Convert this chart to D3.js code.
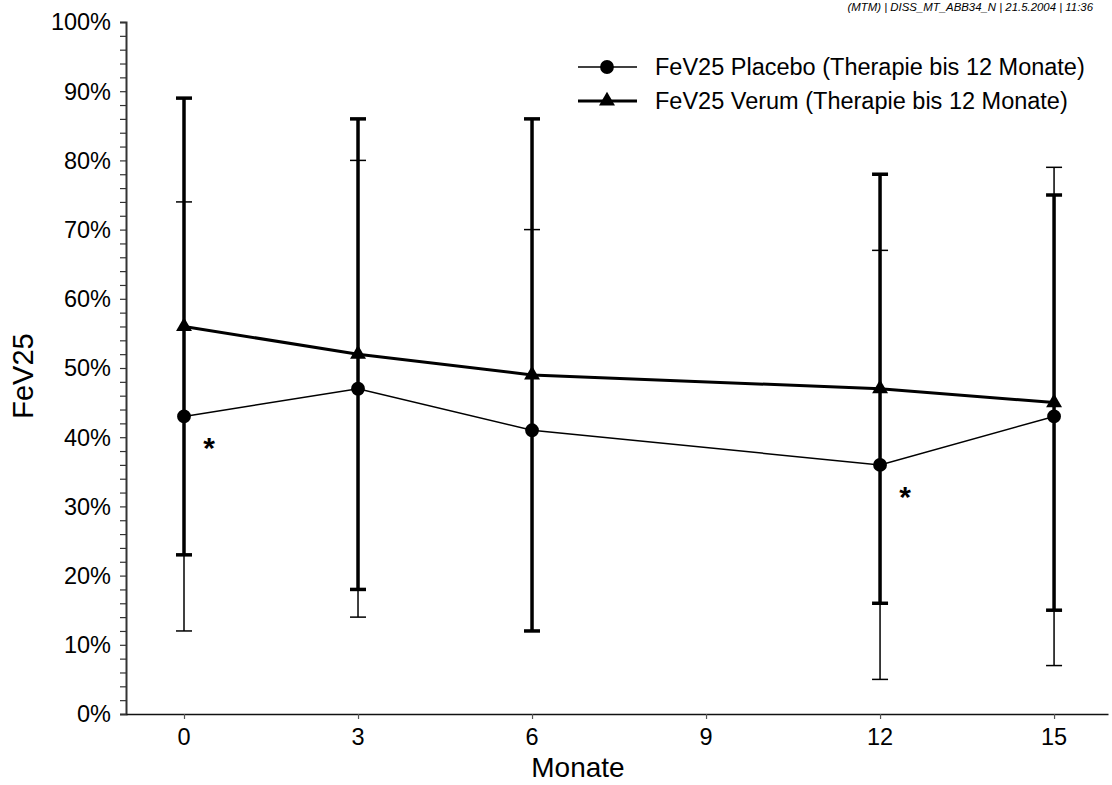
<!DOCTYPE html>
<html>
<head>
<meta charset="utf-8">
<script src="https://cdn.jsdelivr.net/npm/d3@7"></script>
<style>
  body { margin: 0; background: #fff; }
  svg { display: block; font-family: "Liberation Sans", Arial, sans-serif; }
</style>
</head>
<body>
<div id="chart"></div>
<script>
// Data
const months = [0, 3, 6, 12, 15];
const placeboMean = [43, 47, 41, 36, 43];
const placeboUpper = [74, 80, 70, 67, 79];
const placeboLower = [12, 14, 12, 5, 7];
const verumMean = [56, 52, 49, 47, 45];
const verumUpper = [89, 86, 86, 78, 75];
const verumLower = [23, 18, 12, 16, 15];
const xTicks = [0, 3, 6, 9, 12, 15];
const yTicks = [0, 10, 20, 30, 40, 50, 60, 70, 80, 90, 100];
const starMonths = [0, 12];
const seriesNames = ["FeV25 Placebo (Therapie bis 12 Monate)", "FeV25 Verum (Therapie bis 12 Monate)"];

const W = 1112, H = 785;
const plot = { left: 126, right: 1108, top: 22, bottom: 714 };

const svg = d3.select("#chart").append("svg")
  .attr("width", W)
  .attr("height", H);

const x = d3.scaleLinear().domain([-1, 15.93]).range([plot.left, plot.right]);
const y = d3.scaleLinear().domain([0, 100]).range([plot.bottom, plot.top]);

// Y axis with minor ticks
const yAxis = svg.append("g")
  .attr("transform", `translate(${plot.left},0)`);
yAxis.call(d3.axisLeft(y).tickValues(d3.range(0, 101, 2)).tickSize(6).tickFormat(""))
yAxis.select(".domain").attr("stroke", "#333").attr("stroke-width", 2);
yAxis.selectAll(".tick line").attr("stroke", "#333").attr("stroke-width", 1.2);

svg.append("g").selectAll("text")
  .data(yTicks)
  .join("text")
  .attr("x", 111)
  .attr("y", d => y(d))
  .attr("dy", "0.36em")
  .attr("text-anchor", "end")
  .style("font-size", "23.5px")
  .text(d => d + "%");

// X axis
const xAxis = svg.append("g")
  .attr("transform", `translate(0,${plot.bottom})`);
xAxis.call(d3.axisBottom(x).tickValues(xTicks).tickSize(5).tickSizeOuter(0).tickFormat(""));
xAxis.select(".domain").attr("stroke", "#111").attr("stroke-width", 1.5);
xAxis.selectAll(".tick line").attr("stroke", "#555").attr("stroke-width", 1.2);

svg.append("g").selectAll("text")
  .data(xTicks)
  .join("text")
  .attr("x", d => x(d))
  .attr("y", 745)
  .attr("text-anchor", "middle")
  .style("font-size", "23.5px")
  .text(d => d);

// Axis titles
svg.append("text")
  .attr("x", 578)
  .attr("y", 777)
  .attr("text-anchor", "middle")
  .style("font-size", "28px")
  .text("Monate");

svg.append("text")
  .attr("transform", `translate(33,376) rotate(-90)`)
  .attr("text-anchor", "middle")
  .style("font-size", "29px")
  .text("FeV25");

// Top-right stamp
svg.append("text")
  .attr("x", 1093)
  .attr("y", 11)
  .attr("text-anchor", "end")
  .style("font-size", "11.4px")
  .style("font-style", "italic")
  .text("(MTM) | DISS_MT_ABB34_N | 21.5.2004 | 11:36");

const capW = 8;

// Function to draw one series with error bars
const drawSeries = (mean, upper, lower, lineW, barW, symbolType, symbolSize) => {
  const g = svg.append("g");

  // error bars
  months.forEach((m, i) => {
    g.append("line")
      .attr("x1", x(m)).attr("x2", x(m))
      .attr("y1", y(upper[i])).attr("y2", y(lower[i]))
      .attr("stroke", "#000").attr("stroke-width", barW);
    [upper[i], lower[i]].forEach(v => {
      g.append("line")
        .attr("x1", x(m) - capW).attr("x2", x(m) + capW)
        .attr("y1", y(v)).attr("y2", y(v))
        .attr("stroke", "#000").attr("stroke-width", barW);
    });
  });

  // line
  const line = d3.line().x((d, i) => x(months[i])).y(d => y(d));
  g.append("path")
    .datum(mean)
    .attr("d", line)
    .attr("fill", "none")
    .attr("stroke", "#000")
    .attr("stroke-width", lineW);

  // markers
  g.selectAll(".mark")
    .data(mean)
    .join("path")
    .attr("transform", (d, i) => `translate(${x(months[i])},${y(d)})`)
    .attr("d", d3.symbol().type(symbolType).size(symbolSize))
    .attr("fill", "#000");
};

drawSeries(placeboMean, placeboUpper, placeboLower, 1.5, 1.5, d3.symbolCircle, 150);
drawSeries(verumMean, verumUpper, verumLower, 3, 3.5, d3.symbolTriangle, 110);

// significance asterisks next to placebo points
svg.append("g").selectAll("text")
  .data(starMonths)
  .join("text")
  .attr("x", m => x(m) + 25)
  .attr("y", m => y(placeboMean[months.indexOf(m)]) + 42)
  .attr("text-anchor", "middle")
  .style("font-size", "30px")
  .style("font-weight", "bold")
  .text("*");

// Legend
const legend = svg.append("g");
const legendRows = [
  { name: seriesNames[0], y: 67, w: 1.5, sym: d3.symbolCircle, size: 150 },
  { name: seriesNames[1], y: 101, w: 3, sym: d3.symbolTriangle, size: 110 }
];
legendRows.forEach(r => {
  legend.append("line")
    .attr("x1", 578).attr("x2", 637)
    .attr("y1", r.y).attr("y2", r.y)
    .attr("stroke", "#000").attr("stroke-width", r.w);
  legend.append("path")
    .attr("transform", `translate(607,${r.y})`)
    .attr("d", d3.symbol().type(r.sym).size(r.size))
    .attr("fill", "#000");
  legend.append("text")
    .attr("x", 655)
    .attr("y", r.y)
    .attr("dy", "0.36em")
    .style("font-size", "23.5px")
    .text(r.name);
});
</script>
</body>
</html>
